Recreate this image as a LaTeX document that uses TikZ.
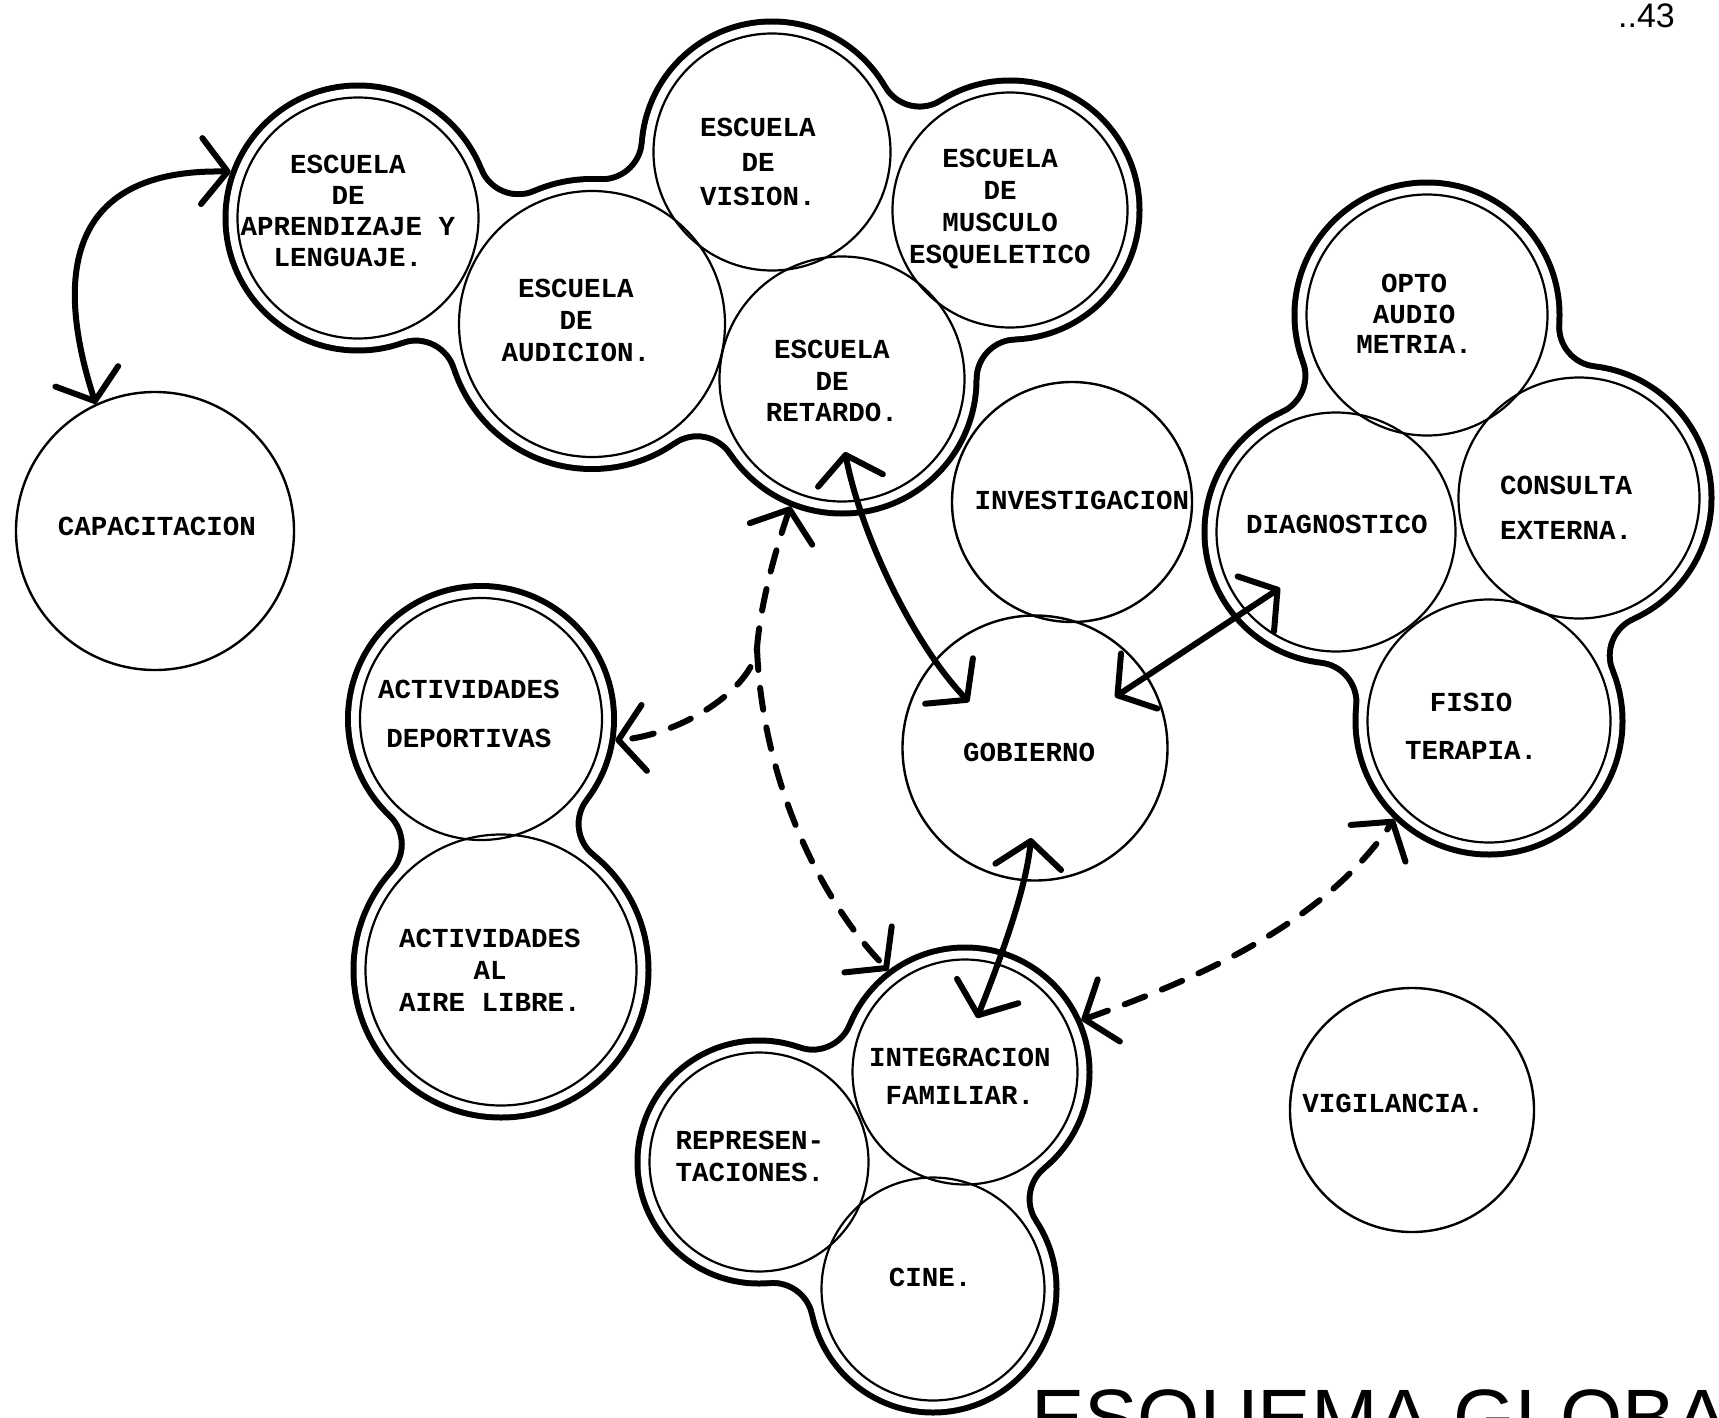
\documentclass[tikz,border=0pt]{standalone}
\usepackage{fontspec}
\newfontfamily\twfont{Liberation Mono}
\newfontfamily\hdfont{Liberation Sans}
\usetikzlibrary{calc,intersections,arrows.meta}
\tikzset{openv/.tip={Straight Barb[length=26pt,width=66pt,round]}}

% one rounded neck between two circles: #1,#2 centres, #3 fillet centre, #4 fillet radius
\newcommand\neckpiece[4]{%
  \begin{scope}
    \clip (#1) -- ($(#3)!#4!(#1)$) -- ($(#3)!#4!(#2)$) -- (#2) -- cycle;
    \fill[even odd rule] (#1) -- (#3) -- (#2) -- cycle (#3) circle[radius=#4];
  \end{scope}}
\newcommand\allnecks[1]{%
  \neckpiece{cA1}{cA2}{iA12-1}{#1}%
  \neckpiece{cA1}{cA2}{iA12-2}{#1}%
  \neckpiece{cA3}{cA2}{iA32-1}{#1}%
  \neckpiece{cA3}{cA4}{iA34-1}{#1}%
  \neckpiece{cA4}{cA5}{iA45-2}{#1}%
  \neckpiece{cA5}{cA2}{iA52-2}{#1}%
  \neckpiece{cB3}{cB1}{iB31-1}{#1}%
  \neckpiece{cB3}{cB4}{iB34-2}{#1}%
  \neckpiece{cB4}{cB2}{iB42-2}{#1}%
  \neckpiece{cB2}{cB1}{iB21-2}{#1}%
  \neckpiece{cC1}{cC2}{iC12-1}{#1}%
  \neckpiece{cC1}{cC2}{iC12-2}{#1}%
  \neckpiece{cD1}{cD3}{iD13-2}{#1}%
  \neckpiece{cD3}{cD2}{iD32-2}{#1}%
  \neckpiece{cD2}{cD1}{iD21-1}{#1}}

\begin{document}
\begin{tikzpicture}[x=1pt,y=-1pt,
  bub/.style={circle,draw,line width=2.2pt,inner sep=0pt,outer sep=15pt},
  solo/.style={circle,draw,line width=2.4pt,inner sep=0pt,outer sep=1.2pt},
  lab/.style={font=\twfont\bfseries\fontsize{27.5}{#1}\selectfont,align=center,inner sep=0pt},
  conn/.style={line width=6pt,openv-openv},
  dconn/.style={conn,dash pattern=on 22pt off 18pt,line cap=round}]

\path[use as bounding box] (0,0) rectangle (1719,1418);
\clip (0,0) rectangle (1719,1418);

% centres of the grouped circles
\coordinate (cA1) at (358,218);
\coordinate (cA2) at (592,324);
\coordinate (cA3) at (772,152);
\coordinate (cA4) at (1010,210);
\coordinate (cA5) at (842,379);
\coordinate (cB1) at (1427,315);
\coordinate (cB2) at (1336,532);
\coordinate (cB3) at (1579,498);
\coordinate (cB4) at (1489,721);
\coordinate (cC1) at (481,719);
\coordinate (cC2) at (501,970);
\coordinate (cD1) at (965,1072);
\coordinate (cD2) at (759,1162);
\coordinate (cD3) at (933,1289);

% helper circles for the rounded necks of the outlines
\path[name path=fA1] (cA1) circle[radius=172.5pt];
\path[name path=fA2] (cA2) circle[radius=185pt];
\path[name path=fA3] (cA3) circle[radius=170.5pt];
\path[name path=fA4] (cA4) circle[radius=169.5pt];
\path[name path=fA5] (cA5) circle[radius=174.5pt];
\path[name path=fB1] (cB1) circle[radius=172.5pt];
\path[name path=fB2] (cB2) circle[radius=171.5pt];
\path[name path=fB3] (cB3) circle[radius=172.5pt];
\path[name path=fB4] (cB4) circle[radius=173.5pt];
\path[name path=fC1] (cC1) circle[radius=173pt];
\path[name path=fC2] (cC2) circle[radius=187.5pt];
\path[name path=fD1] (cD1) circle[radius=164.5pt];
\path[name path=fD2] (cD2) circle[radius=161.5pt];
\path[name path=fD3] (cD3) circle[radius=163.5pt];

\path[name intersections={of=fA1 and fA2, name=iA12, sort by=fA1}];
\path[name intersections={of=fA3 and fA2, name=iA32, sort by=fA3}];
\path[name intersections={of=fA3 and fA4, name=iA34, sort by=fA3}];
\path[name intersections={of=fA4 and fA5, name=iA45, sort by=fA4}];
\path[name intersections={of=fA5 and fA2, name=iA52, sort by=fA5}];
\path[name intersections={of=fB3 and fB1, name=iB31, sort by=fB3}];
\path[name intersections={of=fB3 and fB4, name=iB34, sort by=fB3}];
\path[name intersections={of=fB4 and fB2, name=iB42, sort by=fB4}];
\path[name intersections={of=fB2 and fB1, name=iB21, sort by=fB2}];
\path[name intersections={of=fC1 and fC2, name=iC12, sort by=fC1}];
\path[name intersections={of=fD1 and fD3, name=iD13, sort by=fD1}];
\path[name intersections={of=fD3 and fD2, name=iD32, sort by=fD3}];
\path[name intersections={of=fD2 and fD1, name=iD21, sort by=fD2}];

% thick group outlines (outline = black band between offset r+15 and r+9)
\begin{scope}[color=black]
\fill (cA1) circle[radius=135.5pt] (cA2) circle[radius=148pt] (cA3) circle[radius=133.5pt]
      (cA4) circle[radius=132.5pt] (cA5) circle[radius=137.5pt]
      (cB1) circle[radius=135.5pt] (cB2) circle[radius=134.5pt] (cB3) circle[radius=135.5pt]
      (cB4) circle[radius=136.5pt]
      (cC1) circle[radius=136pt] (cC2) circle[radius=150.5pt]
      (cD1) circle[radius=127.5pt] (cD2) circle[radius=124.5pt] (cD3) circle[radius=126.5pt];
\allnecks{37pt}
\end{scope}
\begin{scope}[color=white]
\fill (cA1) circle[radius=129.5pt] (cA2) circle[radius=142pt] (cA3) circle[radius=127.5pt]
      (cA4) circle[radius=126.5pt] (cA5) circle[radius=131.5pt]
      (cB1) circle[radius=129.5pt] (cB2) circle[radius=128.5pt] (cB3) circle[radius=129.5pt]
      (cB4) circle[radius=130.5pt]
      (cC1) circle[radius=130pt] (cC2) circle[radius=144.5pt]
      (cD1) circle[radius=121.5pt] (cD2) circle[radius=118.5pt] (cD3) circle[radius=120.5pt];
\allnecks{43pt}
\fill (cA2) -- (cA3) -- (cA5) -- cycle;
\fill (cA3) -- (cA4) -- (cA5) -- cycle;
\fill (cB1) -- (cB2) -- (cB3) -- cycle;
\fill (cB2) -- (cB3) -- (cB4) -- cycle;
\fill (cD1) -- (cD2) -- (cD3) -- cycle;
\end{scope}

% circles of the groups
\node[bub,minimum size=241pt] (nA1) at (cA1) {};
\node[bub,minimum size=266pt] (nA2) at (cA2) {};
\node[bub,minimum size=237pt] (nA3) at (cA3) {};
\node[bub,minimum size=235pt] (nA4) at (cA4) {};
\node[bub,minimum size=245pt] (nA5) at (cA5) {};
\node[bub,minimum size=241pt] (nB1) at (cB1) {};
\node[bub,minimum size=239pt] (nB2) at (cB2) {};
\node[bub,minimum size=241pt] (nB3) at (cB3) {};
\node[bub,minimum size=243pt] (nB4) at (cB4) {};
\node[bub,minimum size=242pt] (nC1) at (cC1) {};
\node[bub,minimum size=271pt] (nC2) at (cC2) {};
\node[bub,minimum size=225pt] (nD1) at (cD1) {};
\node[bub,minimum size=219pt] (nD2) at (cD2) {};
\node[bub,minimum size=223pt] (nD3) at (cD3) {};

% single circles
\node[solo,minimum size=278pt] (nE1) at (155,531) {};
\node[solo,minimum size=240pt] (nE2) at (1072,502) {};
\node[solo,minimum size=265pt] (nE3) at (1035,748) {};
\node[solo,minimum size=244pt] (nE4) at (1412,1110) {};

% texts
\node[lab=31] (tA1) at (348,211) {ESCUELA\\DE\\APRENDIZAJE Y\\LENGUAJE.};
\node[lab=32] (tA2) at (576,320) {ESCUELA\\DE\\AUDICION.};
\node[lab=34.5] (tA3) at (758,162) {ESCUELA\\DE\\VISION.};
\node[lab=31.7] (tA4) at (1000,209) {ESCUELA\\DE\\MUSCULO\\ESQUELETICO};
\node[lab=31.5] (tA5) at (832,381) {ESCUELA\\DE\\RETARDO.};
\node[lab=30.5] (tB1) at (1414,314) {OPTO\\AUDIO\\METRIA.};
\node[lab=31] (tB2) at (1337,524) {DIAGNOSTICO};
\node[lab=45] (tB3) at (1566,508) {CONSULTA\\EXTERNA.};
\node[lab=48] (tB4) at (1471,726) {FISIO\\TERAPIA.};
\node[lab=49] (tC1) at (469,714) {ACTIVIDADES\\DEPORTIVAS};
\node[lab=32] (tC2) at (490,970) {ACTIVIDADES\\AL\\AIRE LIBRE.};
\node[lab=38] (tD1) at (960,1076) {INTEGRACION\\FAMILIAR.};
\node[lab=32] (tD2) at (750,1156) {REPRESEN-\\TACIONES.};
\node[lab=31] (tD3) at (930,1277) {CINE.};
\node[lab=31] (tE1) at (157,526) {CAPACITACION};
\node[lab=31] (tE2) at (1082,500) {INVESTIGACION};
\node[lab=31] (tE3) at (1029,752) {GOBIERNO};
\node[lab=31] (tE4) at (1393,1103) {VIGILANCIA.};

% connectors
\coordinate (kA) at (845,452);
\coordinate (kB) at (969,702);
\coordinate (kC) at (1115,697);
\coordinate (kD) at (1280,588);
\coordinate (kE) at (1031,838);
\coordinate (kF) at (977,1018);
\coordinate (kBr) at (757,648);

\draw[conn] (nE1.115) .. controls (62,300) and (50,168) .. (nA1.160);
\draw[conn] (kA) .. controls (860,530) and (910,640) .. (kB);
\draw[conn] (kC) -- (kD);
\draw[conn] (kE) .. controls (1026,890) and (1000,960) .. (kF);
\draw[dconn] (nA5.248) .. controls (772,560) and (760,610) .. (kBr)
             .. controls (752,690) and (680,735) .. (nC1.351);
\draw[dconn,-openv] (kBr) .. controls (762,780) and (820,900) .. (nD1.127);
\draw[dconn] (nD1.24) .. controls (1180,985) and (1320,930) .. (nB4.226);

% page number and title
\node[font=\hdfont\fontsize{34}{34}\selectfont,anchor=base east,inner sep=0pt] (pnum) at (1675,28) {..43};
\node[font=\hdfont\fontsize{80}{80}\selectfont,anchor=base west,inner sep=0pt] (ttl) at (1031,1445) {ESQUEMA GLOBAL};
\end{tikzpicture}
\end{document}
